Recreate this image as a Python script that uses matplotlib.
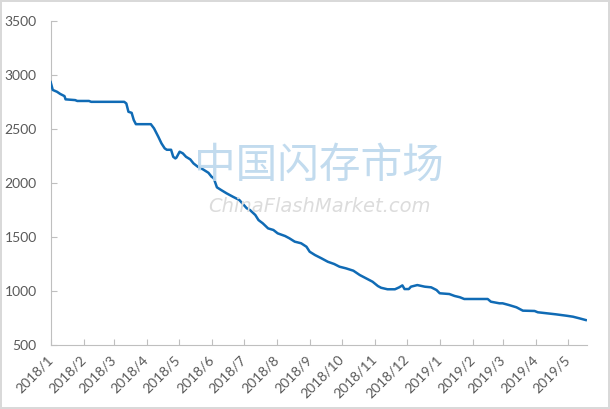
import matplotlib
matplotlib.use('Agg')
from matplotlib import pyplot as plt
import pandas as pd

# price points
dates = ['2018-01-01', '2018-01-03', '2018-01-07', '2018-01-10', '2018-01-14', '2018-01-15',
         '2018-01-24', '2018-01-26', '2018-02-06', '2018-02-08', '2018-03-11', '2018-03-13',
         '2018-03-15', '2018-03-18', '2018-03-20', '2018-03-22', '2018-04-05', '2018-04-08',
         '2018-04-12', '2018-04-15', '2018-04-18', '2018-04-20', '2018-04-24', '2018-04-26',
         '2018-04-28', '2018-04-29', '2018-05-02', '2018-05-05', '2018-05-08', '2018-05-12',
         '2018-05-15', '2018-05-19', '2018-05-24', '2018-05-29', '2018-06-01', '2018-06-03',
         '2018-06-06', '2018-06-10', '2018-06-15', '2018-06-21', '2018-06-24', '2018-06-27',
         '2018-07-04', '2018-07-07', '2018-07-12', '2018-07-15', '2018-07-19', '2018-07-24',
         '2018-07-29', '2018-08-02', '2018-08-09', '2018-08-13', '2018-08-18', '2018-08-24',
         '2018-08-29', '2018-09-01', '2018-09-06', '2018-09-12', '2018-09-18', '2018-09-24',
         '2018-09-29', '2018-10-05', '2018-10-12', '2018-10-18', '2018-10-24', '2018-10-30',
         '2018-11-04', '2018-11-07', '2018-11-13', '2018-11-20', '2018-11-24', '2018-11-27',
         '2018-11-29', '2018-12-03', '2018-12-05', '2018-12-11', '2018-12-18', '2018-12-24',
         '2018-12-29', '2019-01-01', '2019-01-10', '2019-01-15', '2019-01-20', '2019-01-24',
         '2019-02-15', '2019-02-18', '2019-02-26', '2019-03-01', '2019-03-07', '2019-03-14',
         '2019-03-20', '2019-03-31', '2019-04-03', '2019-04-12', '2019-04-20', '2019-04-30',
         '2019-05-06', '2019-05-12', '2019-05-18']
values = [2935, 2862, 2845, 2825, 2805, 2775,
          2768, 2760, 2760, 2752, 2752, 2737,
          2660, 2650, 2583, 2545, 2545, 2506,
          2429, 2367, 2321, 2308, 2308, 2243,
          2228, 2235, 2290, 2275, 2243, 2219,
          2182, 2151, 2126, 2095, 2058, 2045,
          1960, 1935, 1905, 1873, 1858, 1843,
          1766, 1750, 1704, 1657, 1627, 1580,
          1565, 1534, 1509, 1488, 1457, 1442,
          1410, 1364, 1333, 1303, 1271, 1250,
          1225, 1210, 1188, 1148, 1117, 1086,
          1046, 1030, 1016, 1016, 1034, 1052,
          1018, 1018, 1040, 1055, 1040, 1034,
          1009, 979, 972, 954, 942, 926,
          926, 901, 886, 886, 870, 849,
          818, 815, 803, 793, 784, 771,
          762, 747, 731]
month_ticks = pd.date_range('2018-01-01', '2019-05-01', freq='MS')
y_ticks = [500, 1000, 1500, 2000, 2500, 3000, 3500]

x = pd.to_datetime(dates)

fig = plt.figure(figsize=(6.1, 4.09), dpi=100)
fig.patch.set_edgecolor('#d9d9d9')
fig.patch.set_linewidth(1.5)
ax = fig.add_axes([0.083, 0.1565, 0.879, 0.792])

ax.plot(x, values, color='#106bb5', linewidth=1.8, zorder=3)

ax.set_xlim(x[0], x[-1] + pd.Timedelta(days=1))
ax.set_ylim(500, 3500)
ax.set_yticks(y_ticks)
ax.set_xticks(month_ticks)
ax.set_xticklabels([f'{d.year}/{d.month}' for d in month_ticks], rotation=45,
                   ha='right', va='center', rotation_mode='anchor')

for s in ['top', 'right']:
    ax.spines[s].set_visible(False)
ax.spines['left'].set_color('#bfbfbf')
ax.spines['bottom'].set_color('#bfbfbf')
ax.tick_params(axis='both', direction='in', length=4, color='#bfbfbf', labelcolor='#595959',
               labelsize=10)
ax.tick_params(axis='y', pad=10)
ax.tick_params(axis='x', pad=9)
for lab in ax.get_xticklabels() + ax.get_yticklabels():
    lab.set_fontfamily('Lato')

# watermark
fig.text(0.523, 0.594, '中国闪存市场', fontsize=30, color='#bcd8ed', alpha=0.9,
         ha='center', va='center', family=['Noto Sans CJK SC', 'DejaVu Sans'], zorder=1)
fig.text(0.523, 0.494, 'ChinaFlashMarket.com', fontsize=14, color='#dcdcdc', style='italic',
         ha='center', va='center', family='DejaVu Sans', zorder=1)

fig.savefig('out.png', dpi=100)
